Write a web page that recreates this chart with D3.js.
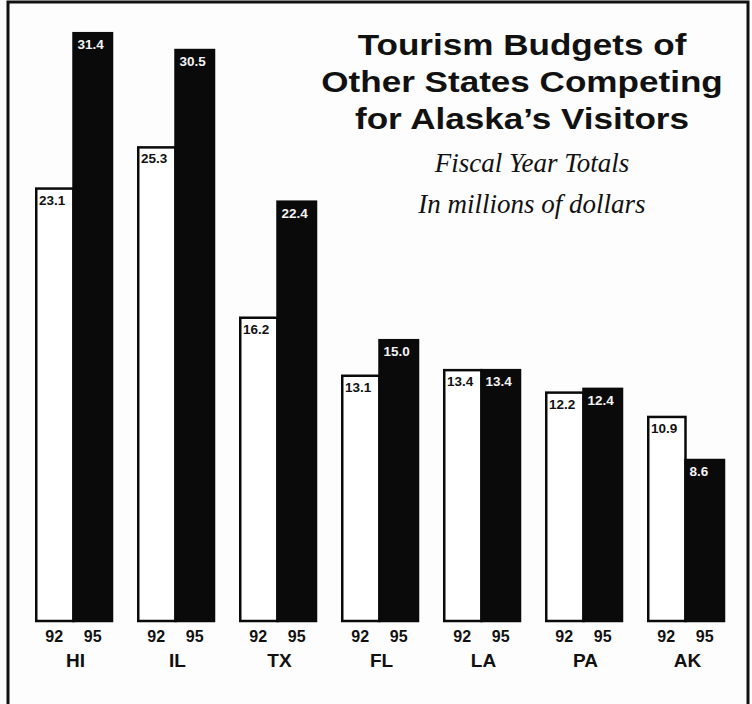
<!DOCTYPE html>
<html>
<head>
<meta charset="utf-8">
<script src="https://cdn.jsdelivr.net/npm/d3@7"></script>
<style>
  html, body { margin: 0; padding: 0; background: #ffffff; }
  svg { display: block; }
</style>
</head>
<body>
<script>
const states = ["HI", "IL", "TX", "FL", "LA", "PA", "AK"];
const years = ["92", "95"];
const values92 = [23.1, 25.3, 16.2, 13.1, 13.4, 12.2, 10.9];
const values95 = [31.4, 30.5, 22.4, 15.0, 13.4, 12.4, 8.6];
const labels92 = ["23.1", "25.3", "16.2", "13.1", "13.4", "12.2", "10.9"];
const labels95 = ["31.4", "30.5", "22.4", "15.0", "13.4", "12.4", "8.6"];
const titleLines = ["Tourism Budgets of", "Other States Competing", "for Alaska\u2019s Visitors"];
const subtitleLines = ["Fiscal Year Totals", "In millions of dollars"];

const W = 752, H = 704;
const svg = d3.select("body").append("svg").attr("width", W).attr("height", H);

svg.append("rect").attr("width", W).attr("height", H).attr("fill", "#fdfdfd");

// frame
svg.append("path")
  .attr("d", `M8,${H} L8,2 L748,2 L748,${H}`)
  .attr("fill", "none").attr("stroke", "#111").attr("stroke-width", 3);

const baseY = 621;
const y = d3.scaleLinear().domain([0, 32]).range([baseY, baseY - 32 * 18.72]);
const x = d3.scaleBand().domain(states).range([35, 724]).paddingInner(0.245).paddingOuter(0);
const xs = d3.scaleBand().domain(years).range([0, x.bandwidth()]).padding(0);

const data = states.map((s, i) => ({
  state: s,
  bars: [
    { year: "92", v: values92[i], label: labels92[i] },
    { year: "95", v: values95[i], label: labels95[i] }
  ]
}));

const groups = svg.append("g").selectAll("g").data(data).join("g")
  .attr("transform", d => `translate(${x(d.state)},0)`);

groups.selectAll("rect").data(d => d.bars).join("rect")
  .attr("x", d => xs(d.year) + (d.year === "92" ? 1.25 : 0))
  .attr("y", d => y(d.v))
  .attr("width", d => xs.bandwidth() - (d.year === "92" ? 1.25 : 0))
  .attr("height", d => baseY - y(d.v))
  .attr("fill", d => d.year === "92" ? "#ffffff" : "#0a0a0a")
  .attr("stroke", "#0a0a0a")
  .attr("stroke-width", 2.5);

groups.selectAll("text.val").data(d => d.bars).join("text")
  .attr("class", "val")
  .attr("x", d => xs(d.year) + 4)
  .attr("y", d => y(d.v) + 16)
  .attr("font-family", "'Liberation Sans Narrow', 'Arial Narrow', 'Liberation Sans', sans-serif")
  .attr("font-weight", "bold")
  .attr("font-size", 13.5)
  .attr("fill", d => d.year === "92" ? "#111" : "#f4f4f4")
  .text(d => d.label);

// year labels
groups.selectAll("text.yr").data(d => d.bars).join("text")
  .attr("class", "yr")
  .attr("x", d => xs(d.year) + xs.bandwidth() / 2)
  .attr("y", 642)
  .attr("text-anchor", "middle")
  .attr("font-family", "'Liberation Sans Narrow', 'Arial Narrow', 'Liberation Sans', sans-serif")
  .attr("font-weight", "bold")
  .attr("font-size", 16)
  .attr("fill", "#111")
  .text(d => d.year);

// state labels
groups.append("text")
  .attr("x", x.bandwidth() / 2 + 2)
  .attr("y", 667)
  .attr("text-anchor", "middle")
  .attr("font-family", "'Liberation Sans', Arial, sans-serif")
  .attr("font-weight", "bold")
  .attr("font-size", 19)
  .attr("fill", "#111")
  .text(d => d.state);

// title
svg.append("g")
  .attr("transform", "translate(522,0) scale(1.17,1)")
  .selectAll("text").data(titleLines).join("text")
  .attr("x", 0)
  .attr("y", (d, i) => 55 + i * 37)
  .attr("text-anchor", "middle")
  .attr("font-family", "'Liberation Sans', Arial, sans-serif")
  .attr("font-weight", "bold")
  .attr("font-size", 30)
  .attr("fill", "#111")
  .text(d => d);

svg.append("g").selectAll("text").data(subtitleLines).join("text")
  .attr("x", 532)
  .attr("y", (d, i) => 172 + i * 41)
  .attr("text-anchor", "middle")
  .attr("font-family", "'Liberation Serif', 'Times New Roman', serif")
  .attr("font-style", "italic")
  .attr("font-size", 27)
  .attr("fill", "#111")
  .text(d => d);
</script>
</body>
</html>
